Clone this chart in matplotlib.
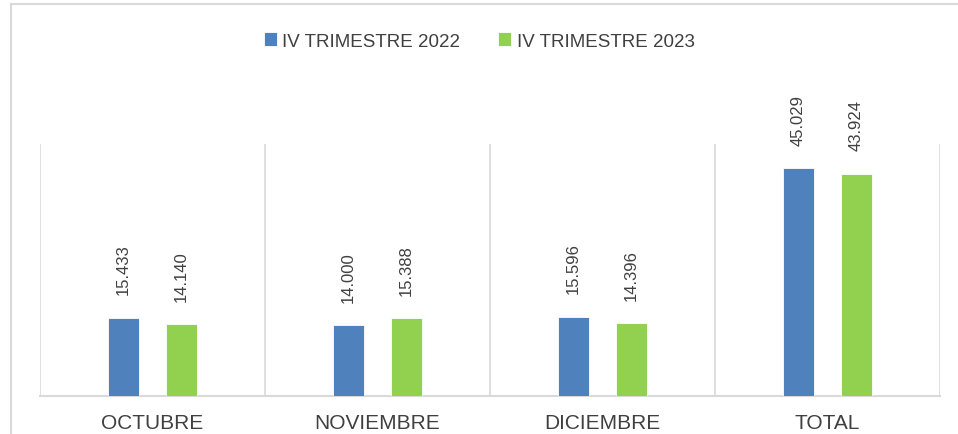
import matplotlib
matplotlib.use('Agg')
import matplotlib.pyplot as plt
from matplotlib.patches import Rectangle
import numpy as np

categories = ['OCTUBRE', 'NOVIEMBRE', 'DICIEMBRE', 'TOTAL']
series_names = ['IV TRIMESTRE 2022', 'IV TRIMESTRE 2023']
values_2022 = [15.433, 14.000, 15.596, 45.029]
values_2023 = [14.140, 15.388, 14.396, 43.924]

blue = '#4F81BD'
green = '#92D050'
text_color = '#404040'
grid_color = '#D9D9D9'

W, H = 958, 435
fig = plt.figure(figsize=(W / 100, H / 100), dpi=100)
ax = fig.add_axes([40 / W, (H - 397) / H, 900 / W, 252 / H])

x = np.arange(len(categories))
offset = 0.129
width = 0.138

bars1 = ax.bar(x - offset, values_2022, width, color=blue, edgecolor='white',
               linewidth=0.6, label=series_names[0], zorder=3)
bars2 = ax.bar(x + offset, values_2023, width, color=green, edgecolor='white',
               linewidth=0.6, label=series_names[1], zorder=3)

for bars, vals in [(bars1, values_2022), (bars2, values_2023)]:
    for b, v in zip(bars, vals):
        ax.annotate(f'{v:.3f}', (b.get_x() + b.get_width() / 2, v),
                    xytext=(0, 17), textcoords='offset points',
                    rotation=90, ha='center', va='bottom',
                    fontsize=12, color=text_color,
                    family='Liberation Sans', annotation_clip=False)

ax.set_xlim(-0.5, len(categories) - 0.5)
ax.set_ylim(0, 49.8)

# category separators
for b in np.arange(-0.5, len(categories), 1.0):
    ax.axvline(b, color=grid_color, linewidth=1.2, zorder=1)

for s in ['top', 'right', 'left']:
    ax.spines[s].set_visible(False)
ax.spines['bottom'].set_color(grid_color)
ax.spines['bottom'].set_linewidth(1.5)
ax.set_yticks([])
ax.set_xticks(x)
ax.set_xticklabels(categories, fontsize=15, color=text_color,
                   family='Liberation Sans')
ax.tick_params(axis='x', length=0, pad=12)

leg = fig.legend(loc='center', bbox_to_anchor=(0.5, 1 - 42 / H), ncol=2,
                 frameon=False, handlelength=0.7,
                 handleheight=0.7, handletextpad=0.3, columnspacing=2.0,
                 prop={'family': 'Liberation Sans', 'size': 13.5})
for t in leg.get_texts():
    t.set_color(text_color)

# chart frame
fig.add_artist(Rectangle((11 / W, -0.1), 1.2, 1.1 - 5 / H,
                         transform=fig.transFigure, fill=False,
                         edgecolor=grid_color, linewidth=1.5))

fig.savefig('out.png', dpi=100)
